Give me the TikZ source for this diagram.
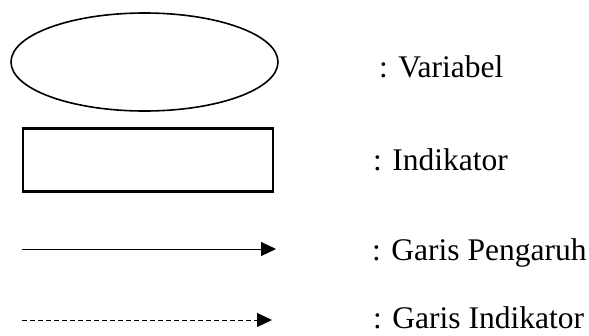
\documentclass[tikz,border=0pt]{standalone}
\usepackage{fontspec}
\setmainfont{Liberation Serif}
\usetikzlibrary{arrows.meta,shapes.geometric}
\begin{document}
\begin{tikzpicture}[x=1pt,y=-1pt,
  legendtext/.style={anchor=base west,inner sep=0pt,font=\fontsize{31.5}{38}\selectfont},
  varshape/.style={draw,line width=1.6pt,ellipse,minimum width=267pt,minimum height=98pt,inner sep=0pt},
  indshape/.style={draw,line width=2.2pt,rectangle,minimum width=250pt,minimum height=63pt,inner sep=0pt},
  effect/.style={line width=1pt,-{Triangle[length=15pt,width=14pt]}},
  indline/.style={line width=1pt,dash pattern=on 5pt off 3pt,-{Triangle[length=15pt,width=14pt]}}]
\useasboundingbox (0,0) rectangle (589,335);
% legend symbols
\node[varshape] (var) at (144.5,62) {};
\node[indshape] (ind) at (148,160) {};
\coordinate (e1) at (22,249);
\coordinate (e2) at (276,249);
\coordinate (d1) at (22,320);
\coordinate (d2) at (272,320);
\draw[effect] (e1) -- (e2);
\draw[indline] (d1) -- (d2);
% legend descriptions
\node[legendtext] (tvar) at (379,77) {: Variabel};
\node[legendtext] (tind) at (373,170) {: Indikator};
\node[legendtext] (teff) at (372,260) {: Garis Pengaruh};
\node[legendtext] (tdash) at (373,328) {: Garis Indikator};
\end{tikzpicture}
\end{document}
